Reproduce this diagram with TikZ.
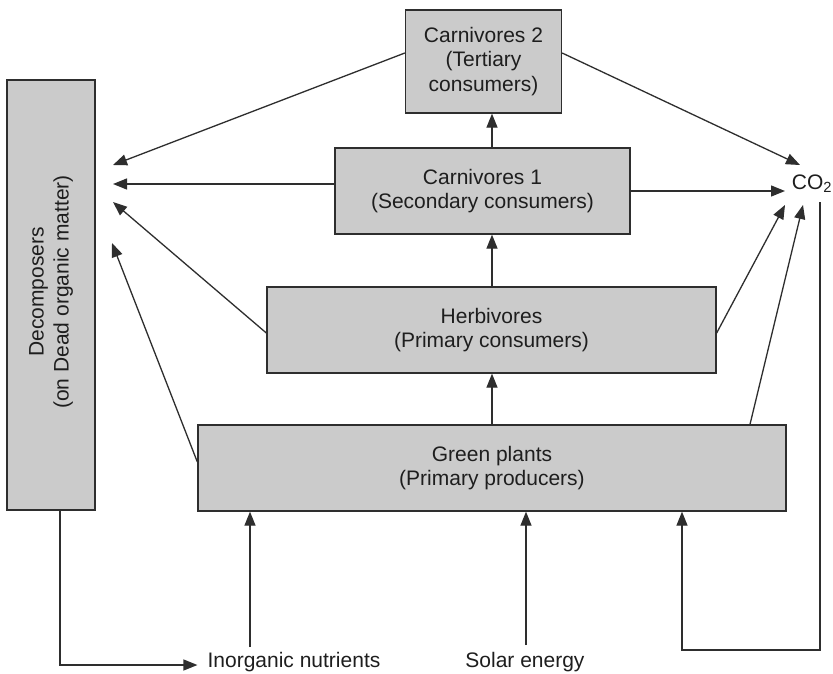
\documentclass[tikz,border=0pt]{standalone}
\usepackage{fontspec}
\setmainfont{Liberation Sans}
\usetikzlibrary{arrows.meta}
\definecolor{boxfill}{HTML}{CBCBCB}
\definecolor{inkline}{HTML}{2E2E2E}
\definecolor{inktext}{HTML}{1E1E1E}
\begin{document}
\begin{tikzpicture}[x=1pt,y=-1pt,
  box/.style={draw=inkline,line width=1.3pt,fill=boxfill,rectangle,inner sep=0pt,
    align=center,text=inktext,font=\fontsize{21}{24.5}\selectfont},
  lbl/.style={inner sep=0pt,text=inktext,font=\fontsize{21}{25}\selectfont},
  arr/.style={draw=inkline,line width=1.3pt,-{Triangle[length=14pt,width=11pt]}},
  ln/.style={draw=inkline,line width=1.3pt}]
\useasboundingbox (0,0) rectangle (833,673);
\fill[white] (0,0) rectangle (833,673);
% boxes
\node[box,minimum width=156pt,minimum height=103pt] (c2) at (483.5,61.5) {Carnivores 2\\(Tertiary\\consumers)};
\node[box,minimum width=295pt,minimum height=86pt] (c1) at (482.5,191) {Carnivores 1\\(Secondary consumers)};
\node[box,minimum width=449pt,minimum height=86pt] (hb) at (491.5,330) {Herbivores\\(Primary consumers)};
\node[box,minimum width=588pt,minimum height=86pt] (gp) at (492,468) {Green plants\\(Primary producers)};
\node[box,minimum width=88pt,minimum height=430pt] (dc) at (51,295) {};
\node[lbl,rotate=90,align=center] (dctext) at (51,292) {Decomposers\\(on Dead organic matter)};
% labels
\node[lbl] (co2) at (812,184) {CO\textsubscript{2}};
\node[lbl] (inorg) at (294,662) {Inorganic nutrients};
\node[lbl] (solar) at (525,662) {Solar energy};
% free ends
\coordinate (d1) at (113,165);
\coordinate (d2) at (113,184);
\coordinate (d3) at (113,202);
\coordinate (d4) at (112,243);
\coordinate (k1) at (800,165);
\coordinate (k2) at (785,191);
\coordinate (k3) at (785,205);
\coordinate (k4) at (803,205);
\coordinate (co2b) at (820,202);
\coordinate (co2c) at (820,650);
\coordinate (co2d) at (682,650);
\coordinate (dcb) at (60,665);
\coordinate (ina) at (250,647);
\coordinate (sol) at (526,645);
% trophic arrows
\draw[arr] ([xshift=9.5pt]c1.north) -- ([xshift=8.5pt]c2.south);
\draw[arr] ([xshift=0.5pt]hb.north) -- ([xshift=9.5pt]c1.south);
\draw[arr] (gp.north) -- ([xshift=0.5pt]hb.south);
% to decomposers
\draw[arr] ([yshift=8.5pt]c2.west) -- (d1);
\draw[arr] ([yshift=7pt]c1.west) -- (d2);
\draw[arr] ([yshift=-3pt]hb.west) -- (d3);
\draw[arr] ([yshift=6pt]gp.west) -- (d4);
% to CO2
\draw[arr] ([yshift=8.5pt]c2.east) -- (k1);
\draw[arr] (c1.east) -- (k2);
\draw[arr] ([yshift=-3pt]hb.east) -- (k3);
\draw[arr] ([xshift=258pt]gp.north) -- (k4);
% CO2 loop
\draw[arr] (co2b) -- (co2c) -- (co2d) -- ([xshift=190pt]gp.south);
% decomposers loop
\draw[arr] ([xshift=9pt]dc.south) -- (dcb) -- ([xshift=-10pt,yshift=-3pt]inorg.west);
\draw[arr] (ina) -- ([xshift=-242pt]gp.south);
\draw[arr] (sol) -- ([xshift=34pt]gp.south);
\end{tikzpicture}
\end{document}
